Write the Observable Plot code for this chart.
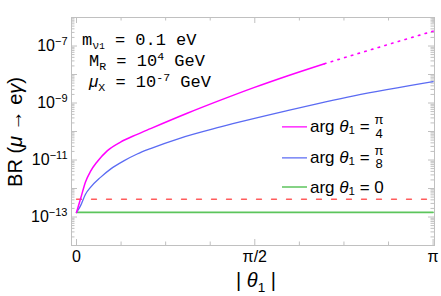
<!DOCTYPE html>
<html><head><meta charset="utf-8">
<script src="https://cdn.jsdelivr.net/npm/d3@7"></script>
<script src="https://cdn.jsdelivr.net/npm/@observablehq/plot@0.6"></script>
<style>
body{margin:0;background:#fff;}
#wrap{position:relative;width:441px;height:296px;font-family:"Liberation Sans",Arial,sans-serif;color:#000;}
.ov{position:absolute;white-space:nowrap;line-height:1;}
.mono{font-family:"Liberation Mono","Courier New",monospace;font-size:17px;}
.sub{font-size:0.68em;position:relative;top:0.35em;}
.sup{font-size:0.68em;position:relative;top:-0.55em;}
.it{font-style:italic;}
.leg{font-size:17px;display:flex;align-items:center;}
.legline{display:inline-block;width:25px;height:3px;margin-right:3px;}
.frac{display:inline-flex;flex-direction:column;align-items:center;font-size:13px;line-height:1.05;margin-left:5px;}
</style></head><body><div id="wrap"></div><script>
// ---- data ----
const thetaPi4 = [0,0.0352,0.0793,0.1233,0.1824,0.2705,0.3877,0.5348,0.652,0.9753,1.2687,1.5621,1.8564,2.185];
const logBrPi4 = [-12.84,-12.37,-11.77,-11.4,-11.06,-10.68,-10.37,-10.1,-9.9,-9.36,-8.9,-8.46,-8.05,-7.62];
const thetaPi4Dotted = [2.185,2.6608,3.1416];
const logBrPi4Dotted = [-7.62,-7.05,-6.48];
const thetaPi8 = [0,0.0352,0.0793,0.1233,0.2115,0.2996,0.4167,0.5348,0.652,0.9163,1.2687,1.8564,2.4432,3.1416];
const logBrPi8 = [-12.84,-12.61,-12.2,-11.96,-11.61,-11.32,-11.03,-10.79,-10.6,-10.23,-9.84,-9.27,-8.75,-8.25];
const thetaZero = [0, 3.1416];
const brZero = [1.45e-13, 1.45e-13];
const thetaBound = [0, 3.1416];
const brBound = [4.2e-13, 4.2e-13];
const yLabelExps = [-13,-11,-9,-7];
const yMajorExps = [-14,-13,-12,-11,-10,-9,-8,-7,-6];
const xTickValues = [0, Math.PI/2, Math.PI];
const xTickLabels = ["0","π/2","π"];
const xMinorSteps = [1,2,3,5,6,7];
const seriesNames = ["π/4","π/8","0"];
const seriesColors = ["#ff00ff","#5b6bf3","#5cc55c"];
const boundColor = "#ff5c5c";

// ---- build tables ----
const toRows = (ts, ls) => ts.map((t,i)=>({t, br: Math.pow(10, ls[i])}));
const rowsPi4 = toRows(thetaPi4, logBrPi4);
const rowsPi4Dot = toRows(thetaPi4Dotted, logBrPi4Dotted);
const rowsPi8 = toRows(thetaPi8, logBrPi8);
const rowsZero = thetaZero.map((t,i)=>({t, br: brZero[i]}));
const rowsBound = thetaBound.map((t,i)=>({t, br: brBound[i]}));
const yMajor = yMajorExps.map(e=>Math.pow(10,e));
const yMinor = [];
for (const e of yMajorExps.slice(0,-1)) for (let k=2;k<=9;k++) yMinor.push(k*Math.pow(10,e));
const yLabels = yLabelExps.map(e=>Math.pow(10,e));
const xMinor = xMinorSteps.map(k=>k*Math.PI/8);

const W=441,H=296,mL=71,mR=7,mT=17,mB=51;
const fw = W-mL-mR, fh = H-mT-mB;
const tickCol = "#c0c0c0";

const chart = Plot.plot({
  width:W, height:H, marginLeft:mL, marginRight:mR, marginTop:mT, marginBottom:mB,
  x:{domain:[-0.044,3.154]},
  y:{type:"log", domain:[1e-14,1e-6]},
  style:{fontFamily:"Liberation Sans, Arial, sans-serif", fontSize:"16px", color:"#000", background:"#fff", overflow:"visible"},
  marks:[
    Plot.frame({stroke:tickCol}),
    Plot.tickY(yMajor, {y:d=>d, stroke:tickCol, insetRight:fw-6}),
    Plot.tickY(yMinor, {y:d=>d, stroke:tickCol, insetRight:fw-3.5}),
    Plot.tickY(yMajor, {y:d=>d, stroke:tickCol, insetLeft:fw-6}),
    Plot.tickY(yMinor, {y:d=>d, stroke:tickCol, insetLeft:fw-3.5}),
    Plot.tickX(xTickValues, {x:d=>d, stroke:tickCol, insetTop:fh-6}),
    Plot.tickX(xMinor, {x:d=>d, stroke:tickCol, insetTop:fh-3.5}),
    Plot.tickX(xTickValues, {x:d=>d, stroke:tickCol, insetBottom:fh-6}),
    Plot.tickX(xMinor, {x:d=>d, stroke:tickCol, insetBottom:fh-3.5}),
    Plot.axisY(yLabels, {anchor:"left", tickSize:0, tickPadding:4, label:null, tickFormat:d=>"10^"+Math.round(Math.log10(d))}),
    Plot.axisX(xTickValues, {anchor:"bottom", tickSize:0, tickPadding:5, label:null, tickFormat:(d,i)=>xTickLabels[i]}),
    Plot.line(rowsBound, {x:"t", y:"br", stroke:boundColor, strokeWidth:1.3, strokeDasharray:"5,10"}),
    Plot.line(rowsZero, {x:"t", y:"br", stroke:seriesColors[2], strokeWidth:1.6}),
    Plot.line(rowsPi8, {x:"t", y:"br", stroke:seriesColors[1], strokeWidth:1.3, curve:"monotone-x"}),
    Plot.line(rowsPi4Dot, {x:"t", y:"br", stroke:seriesColors[0], strokeWidth:1.6, strokeDasharray:"1.5,5.5", curve:"monotone-x"}),
    Plot.line(rowsPi4, {x:"t", y:"br", stroke:seriesColors[0], strokeWidth:1.5, curve:"monotone-x"})
  ]
});

chart.querySelectorAll('g[aria-label="y-axis tick label"] text').forEach(t=>{
  const s = t.textContent; const m = s.match(/^10\^(-?\d+)$/);
  if (!m) return;
  t.textContent = "";
  const ns = "http://www.w3.org/2000/svg";
  const a = document.createElementNS(ns,"tspan"); a.textContent = "10";
  const b = document.createElementNS(ns,"tspan"); b.textContent = m[1].replace("-","−");
  b.setAttribute("dy","-6"); b.setAttribute("font-size","11");
  t.appendChild(a); t.appendChild(b);
});

const wrap = document.getElementById("wrap");
wrap.appendChild(chart);

function ov(html, css, cls="ov"){ const d=document.createElement("div"); d.className=cls; d.innerHTML=html; Object.assign(d.style, css); wrap.appendChild(d); return d; }

// axis titles
ov('BR (<span class="it">μ</span> → e<span class="it">γ</span>)', {left:"15px", top:"132px", fontSize:"20px", transform:"translate(-50%,-50%) rotate(-90deg)"});
ov('| <span class="it">θ</span><span class="sub">1</span> |', {left:"256px", top:"280px", fontSize:"20px", transform:"translate(-50%,-50%)"});

// parameter block
ov('m<span class="sub">ν<span style="font-size:0.8em">1</span></span> = 0.1 eV', {left:"82px", top:"32px"}, "ov mono");
ov('M<span class="sub">R</span> = 10<span class="sup">4</span> GeV', {left:"89px", top:"53px"}, "ov mono");
ov('<span class="it" style="font-family:\'Liberation Sans\'">μ</span><span class="sub">X</span> = 10<span class="sup">-7</span> GeV', {left:"89px", top:"73px"}, "ov mono");

// legend
const legY = [127.3, 157.7, 187.3];
seriesNames.forEach((n,i)=>{
  const label = n.includes("/") ? `<span class="frac"><span>${n.split("/")[0]}</span><span>${n.split("/")[1]}</span></span>` : `&nbsp;${n}`;
  ov(`<svg class="legline" viewBox="0 0 25 3"><line x1="0" x2="25" y1="1.5" y2="1.5" stroke="${seriesColors[i]}" stroke-width="1.4"/></svg>arg <span class="it">&nbsp;θ</span><span class="sub">1</span>&nbsp;=${label}`,
    {left:"282px", top:legY[i]+"px", transform:"translateY(-50%)"}, "ov leg");
});
</script></body></html>
